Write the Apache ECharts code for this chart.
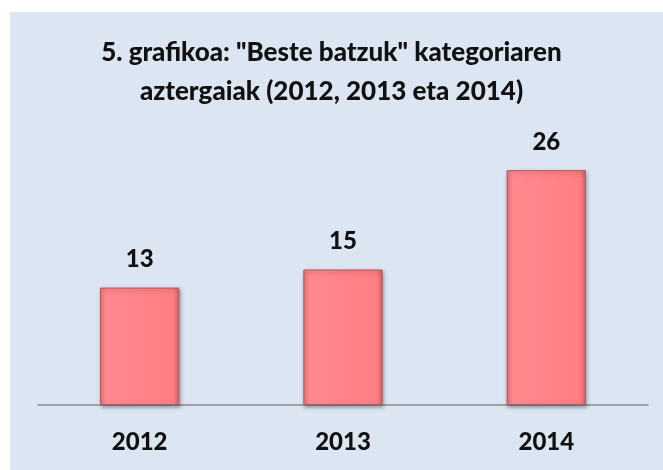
<!DOCTYPE html>
<html>
<head>
<meta charset="utf-8">
<style>
  html, body { margin: 0; padding: 0; background: #fff; }
  #main { width: 663px; height: 470px; }
</style>
<script src="https://cdn.jsdelivr.net/npm/echarts@6/dist/echarts.min.js"></script>
</head>
<body>
<div id="main"></div>
<script>
const years = ['2012', '2013', '2014']
const counts = [13, 15, 26]
const titleText = '5. grafikoa: "Beste batzuk" kategoriaren\naztergaiak (2012, 2013 eta 2014)'

const chart = echarts.init(document.getElementById('main'))
const FONT = 'Lato, "Open Sans", sans-serif'

const option = {
  backgroundColor: '#ffffff',
  graphic: [{
    type: 'rect',
    left: 10,
    top: 12,
    shape: { width: 653, height: 458 },
    style: { fill: '#dce6f2' },
    z: -10
  }],
  title: {
    text: titleText,
    left: 'center',
    top: 28,
    textStyle: {
      fontFamily: FONT,
      fontSize: 26,
      fontWeight: 900,
      color: '#111',
      lineHeight: 39
    }
  },
  grid: {
    left: 38,
    right: 15,
    top: 134,
    bottom: 65
  },
  xAxis: {
    type: 'category',
    data: years,
    axisTick: { show: false },
    axisLine: {
      lineStyle: { color: '#8c8c8c', width: 1.5 }
    },
    axisLabel: {
      margin: 25,
      fontFamily: FONT,
      fontSize: 24,
      fontWeight: 900,
      color: '#111'
    }
  },
  yAxis: {
    type: 'value',
    min: 0,
    max: 30,
    show: false
  },
  series: [{
    type: 'bar',
    data: counts,
    barWidth: '39%',
    label: {
      show: true,
      position: 'top',
      distance: 16,
      fontFamily: FONT,
      fontSize: 24,
      fontWeight: 900,
      color: '#111'
    },
    itemStyle: {
      color: {
        type: 'linear', x: 0, y: 0, x2: 1, y2: 0,
        colorStops: [
          { offset: 0, color: '#f3777c' },
          { offset: 0.08, color: '#ff8a8f' },
          { offset: 0.5, color: '#ff8388' },
          { offset: 0.92, color: '#ff7e83' },
          { offset: 1, color: '#d9656a' }
        ]
      },
      borderColor: '#b0585c',
      borderWidth: 1,
      shadowColor: 'rgba(0,0,0,0.35)',
      shadowBlur: 4,
      shadowOffsetX: 1,
      shadowOffsetY: 2
    }
  }]
}

chart.setOption(option)
</script>
</body>
</html>
